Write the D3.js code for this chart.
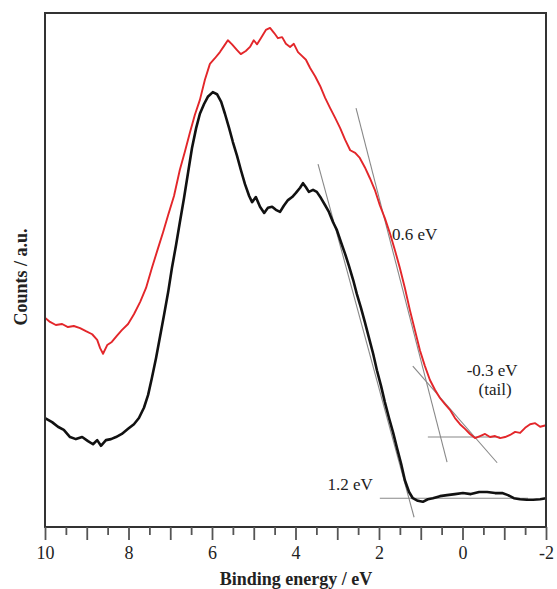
<!DOCTYPE html>
<html><head><meta charset="utf-8">
<script src="https://cdn.jsdelivr.net/npm/d3@7"></script>
<style>body{margin:0;background:#fff}svg{display:block}</style>
</head><body>
<svg id="c" width="557" height="589"></svg>
<script>
// Binding energy (eV) and counts (a.u.)
const redEnergy = [10.00,9.88,9.74,9.59,9.45,9.31,9.16,9.02,8.87,8.75,8.68,8.61,8.51,8.40,8.28,8.16,8.01,7.87,7.72,7.58,7.44,7.29,7.17,7.05,6.91,6.77,6.65,6.53,6.41,6.29,6.17,6.05,5.93,5.81,5.71,5.62,5.52,5.40,5.31,5.19,5.09,5.00,4.92,4.83,4.71,4.61,4.51,4.42,4.32,4.23,4.13,4.04,3.94,3.84,3.75,3.65,3.53,3.41,3.29,3.17,3.05,2.93,2.81,2.69,2.57,2.46,2.34,2.22,2.10,1.98,1.86,1.74,1.62,1.50,1.38,1.26,1.14,1.02,0.90,0.78,0.66,0.54,0.42,0.30,0.18,0.06,-0.06,-0.18,-0.30,-0.42,-0.54,-0.66,-0.78,-0.90,-1.02,-1.14,-1.26,-1.38,-1.50,-1.62,-1.74,-1.86,-2.00];
const redCounts = [40.7,39.9,39.3,39.5,38.9,39.1,38.7,38.1,37.5,36.4,34.8,33.7,35.4,36.0,37.2,38.3,39.5,41.4,43.8,46.5,50.4,54.3,57.4,60.7,64.4,69.5,73.0,76.7,80.2,83.1,87.0,90.1,91.2,92.4,93.6,94.7,93.9,92.8,92.0,92.6,93.4,94.7,93.9,95.1,96.7,97.1,96.1,95.1,95.3,94.0,93.4,94.0,92.4,91.6,90.9,89.3,87.7,85.8,83.5,81.5,79.6,77.6,75.3,73.3,72.8,71.8,70.0,67.9,65.6,62.6,60.1,57.2,53.9,50.4,46.5,42.2,38.3,34.4,31.3,28.6,26.7,25.1,23.9,22.8,21.2,20.0,19.1,18.1,17.3,17.7,18.1,17.5,17.7,17.3,17.5,17.9,18.5,18.3,19.3,20.0,20.2,19.5,19.8];
const blackEnergy = [10.00,9.83,9.69,9.55,9.40,9.26,9.11,8.97,8.85,8.75,8.66,8.54,8.42,8.30,8.16,8.01,7.87,7.75,7.63,7.53,7.44,7.34,7.25,7.15,7.05,6.96,6.86,6.77,6.67,6.57,6.48,6.38,6.29,6.19,6.10,5.98,5.88,5.78,5.69,5.59,5.50,5.40,5.31,5.21,5.11,5.04,4.95,4.85,4.75,4.66,4.56,4.47,4.37,4.28,4.18,4.08,3.99,3.89,3.82,3.75,3.68,3.58,3.49,3.39,3.29,3.20,3.10,3.01,2.91,2.81,2.72,2.62,2.53,2.43,2.34,2.24,2.14,2.05,1.95,1.86,1.76,1.66,1.57,1.47,1.38,1.28,1.19,1.07,0.95,0.83,0.71,0.54,0.37,0.18,-0.01,-0.20,-0.40,-0.59,-0.78,-0.95,-1.09,-1.23,-1.38,-1.54,-1.69,-1.86,-2.00];
const blackCounts = [21.2,20.4,19.5,18.9,17.5,17.1,17.5,16.7,16.1,16.9,15.8,16.9,17.1,17.5,18.1,19.1,20.0,21.2,23.2,25.7,29.0,32.9,36.8,41.2,45.7,50.4,54.9,59.3,64.0,69.1,73.7,77.6,80.4,82.3,83.7,84.6,84.2,82.7,80.4,77.6,74.9,72.2,69.5,66.7,64.4,63.2,64.2,62.3,61.1,62.1,62.3,61.7,61.3,62.5,63.6,64.2,65.0,66.0,66.9,66.1,65.2,65.6,65.2,64.0,62.6,61.3,59.3,57.8,55.4,53.1,50.8,48.1,45.3,42.6,39.9,36.8,33.7,30.5,27.4,24.3,21.2,18.3,15.4,12.3,9.1,6.8,5.6,5.1,4.9,5.4,5.6,6.0,6.2,6.4,6.6,6.4,6.8,6.8,6.6,6.6,6.2,5.6,5.4,5.3,5.3,5.4,5.6];
// tangent / baseline construction lines: [E1, C1, E2, C2]
const guideLines = [
  [3.46, 70.6, 1.16, 1.9],
  [1.98, 5.6, -1.57, 5.6],
  [2.55, 81.5, 0.37, 12.6],
  [1.19, 31.3, -0.83, 12.5],
  [0.83, 17.5, -0.90, 17.5]
];
const annotations = [
  {text: "0.6 eV", e: 1.69, c: 55.8, anchor: "start"},
  {text: "-0.3 eV", e: -0.71, c: 29.4, anchor: "middle"},
  {text: "(tail)", e: -0.78, c: 25.7, anchor: "middle"},
  {text: "1.2 eV", e: 2.69, c: 7.2, anchor: "middle"}
];
const majorTicks = [10,9,8,7,6,5,4,3,2,1,0,-1,-2];
const labelTicks = [10,8,6,4,2,0,-2];
const minorTicks = [9.5,8.5,7.5,6.5,5.5,4.5,3.5,2.5,1.5,0.5,-0.5,-1.5];

const L = 45, R = 546, T = 13, B = 527;
const svg = d3.select("#c");
const x = d3.scaleLinear().domain([10, -2]).range([L, R]);
const y = d3.scaleLinear().domain([0, 100]).range([B, T]);
const serif = "'Liberation Serif','Times New Roman',serif";

// guide lines
svg.append("g").selectAll("line").data(guideLines).join("line")
  .attr("x1", d => x(d[0])).attr("y1", d => y(d[1]))
  .attr("x2", d => x(d[2])).attr("y2", d => y(d[3]))
  .attr("stroke", "#888").attr("stroke-width", 1.1);

const line = d3.line().x(d => x(d[0])).y(d => y(d[1]));
svg.append("path").datum(redEnergy.map((e, i) => [e, redCounts[i]]))
  .attr("d", line).attr("fill", "none").attr("stroke", "#e3262a").attr("stroke-width", 1.9)
  .attr("stroke-linejoin", "round");
svg.append("path").datum(blackEnergy.map((e, i) => [e, blackCounts[i]]))
  .attr("d", line).attr("fill", "none").attr("stroke", "#111").attr("stroke-width", 2.6)
  .attr("stroke-linejoin", "round");

// frame
svg.append("rect").attr("x", L).attr("y", T).attr("width", R - L).attr("height", B - T)
  .attr("fill", "none").attr("stroke", "#333").attr("stroke-width", 2);

// ticks
const axG = svg.append("g").attr("transform", `translate(0,${B})`);
axG.call(d3.axisBottom(x).tickValues(majorTicks).tickSize(13).tickFormat(d => labelTicks.includes(d) ? d : ""))
  .call(g => g.select(".domain").remove())
  .call(g => g.selectAll(".tick line").attr("stroke", "#555").attr("stroke-width", 1.8))
  .call(g => g.selectAll(".tick text").attr("font-family", serif).attr("font-size", 18).attr("fill", "#222").attr("y", 19));
svg.append("g").attr("transform", `translate(0,${B})`)
  .call(d3.axisBottom(x).tickValues(minorTicks).tickSize(8).tickFormat(""))
  .call(g => g.select(".domain").remove())
  .call(g => g.selectAll(".tick line").attr("stroke", "#555").attr("stroke-width", 1.8));

// annotations
svg.append("g").selectAll("text").data(annotations).join("text")
  .attr("x", d => x(d.e)).attr("y", d => y(d.c)).attr("text-anchor", d => d.anchor)
  .attr("font-family", serif).attr("font-size", 17).attr("fill", "#222").text(d => d.text);

// axis titles
svg.append("text").attr("x", 296).attr("y", 585).attr("text-anchor", "middle")
  .attr("font-family", serif).attr("font-weight", "bold").attr("font-size", 18).attr("fill", "#222")
  .text("Binding energy / eV");
svg.append("text").attr("transform", "translate(27,277) rotate(-90)").attr("text-anchor", "middle")
  .attr("font-family", serif).attr("font-weight", "bold").attr("font-size", 18).attr("fill", "#222")
  .text("Counts / a.u.");
</script>
</body></html>
